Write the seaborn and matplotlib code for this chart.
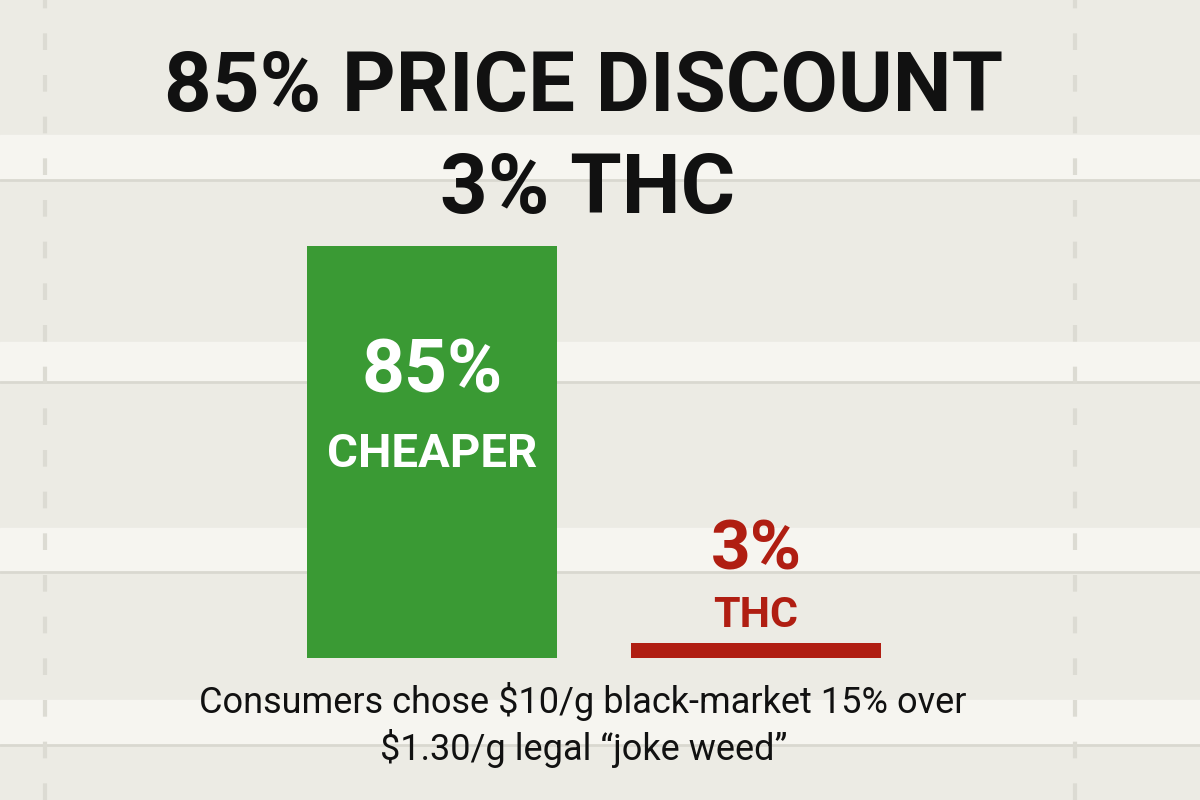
import matplotlib.pyplot as plt
import seaborn as sns
import pandas as pd

labels = ['price', 'thc']
values = [85, 3]
bar_colors = ['#3a9a34', '#b01e12']
title_lines = ['85% PRICE DISCOUNT', '3% THC']
caption = 'Consumers chose $10/g black-market 15% over\n$1.30/g legal \u201cjoke weed\u201d'

df = pd.DataFrame({'label': labels, 'value': values})

sns.set_theme(style='white')
plt.rcParams['font.family'] = ['Roboto', 'DejaVu Sans']

fig = plt.figure(figsize=(12, 8), dpi=100)
fig.patch.set_facecolor('#ecebe4')

# shelf background
bg = fig.add_axes([0, 0, 1, 1])
bg.set_xlim(0, 1200)
bg.set_ylim(800, 0)
bg.axis('off')
for y0, y1 in [(135, 180), (342, 382), (528, 572), (700, 745)]:
    bg.axhspan(y0, y1, color='#f6f5f0', zorder=0)
    bg.axhline(y1, color='#d9d8d0', lw=2, zorder=0)
for x in [45, 1075]:
    bg.axvline(x, color='#dcdbd3', lw=3, ls=(0, (4, 6)), zorder=0)

ax = fig.add_axes([108 / 1200, 142 / 800, 972 / 1200, 412 / 800])
ax.patch.set_alpha(0)
sns.barplot(data=df, x='label', y='value', hue='label', palette=bar_colors,
            width=0.77, saturation=1, legend=False, linewidth=0, ax=ax)
ax.set_xlim(-1, 2)
ax.set_ylim(0, 85)
ax.axis('off')

ax.text(0, 59, '85%', color='white', ha='center', va='center', fontsize=54, weight='bold')
ax.text(0, 42, 'CHEAPER', color='white', ha='center', va='center', fontsize=34, weight='bold')
ax.text(1, 22, '3%', color=bar_colors[1], ha='center', va='center', fontsize=50, weight='bold')
ax.text(1, 8.8, 'THC', color=bar_colors[1], ha='center', va='center', fontsize=31, weight='bold')

fig.text(0.486, 0.89, title_lines[0], ha='center', va='center', fontsize=60, weight='bold', color='#111111')
fig.text(0.49, 0.762, title_lines[1], ha='center', va='center', fontsize=60, weight='bold', color='#111111')
fig.text(0.486, 0.094, caption, ha='center', va='center', fontsize=26, color='#111111', linespacing=1.25)

fig.savefig('out.png', dpi=100, facecolor=fig.get_facecolor())
